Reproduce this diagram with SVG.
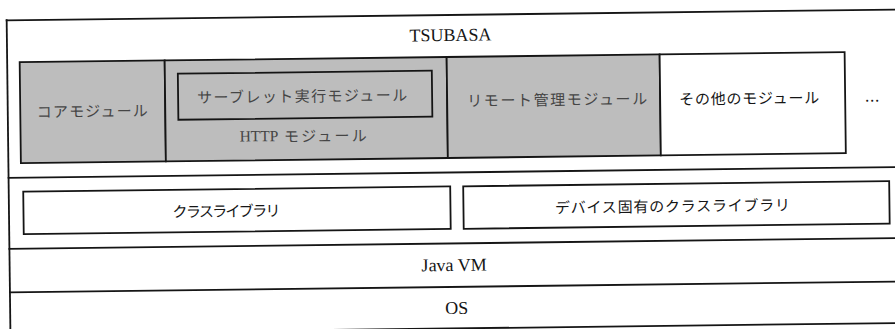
<svg xmlns="http://www.w3.org/2000/svg" width="895" height="329" viewBox="0 0 895 329">
<style>
.ln{stroke:#151515;stroke-width:1.8;fill:none}
.box{stroke:#151515;stroke-width:1.8;fill:#fff}
.gray{stroke:#151515;stroke-width:1.8;fill:#bdbdbd}
.lat{font-family:"Liberation Serif","DejaVu Serif",serif;font-size:18px;fill:#151515;text-anchor:middle}
.jp{font-family:"Noto Sans CJK JP","Noto Sans",sans-serif;font-size:15px;fill:#151515;text-anchor:middle;dominant-baseline:central}
.dim{fill:#454545}
</style>
<rect width="895" height="329" fill="#fff"/>
<g transform="rotate(-0.69 447 170)">
  <g id="frame">
    <path class="ln" d="M8.5 14 V345"/>
  </g>
  <g id="tsubasa">
    <path class="ln" d="M7.6 15 H905"/>
    <text class="lat" x="452" y="41">TSUBASA</text>
  </g>
  <g id="core-module">
    <rect class="gray" x="21" y="57" width="145" height="101"/>
    <text class="jp dim" x="93" y="106" textLength="111" lengthAdjust="spacing">コアモジュール</text>
  </g>
  <g id="http-module">
    <rect class="gray" x="166" y="57" width="282" height="101"/>
    <text class="jp dim" x="240" y="133" style="text-anchor:start"><tspan style="font-family:'Liberation Serif','DejaVu Serif',serif;font-size:15.5px">HTTP</tspan><tspan letter-spacing="2.2"> モジュール</tspan></text>
  </g>
  <g id="servlet-module">
    <rect class="gray" x="179" y="70.5" width="254" height="46"/>
    <text class="jp dim" x="303" y="93.5" textLength="210" lengthAdjust="spacing">サーブレット実行モジュール</text>
  </g>
  <g id="remote-module">
    <rect class="gray" x="448" y="57" width="213" height="101"/>
    <text class="jp dim" x="558" y="100" textLength="180" lengthAdjust="spacing">リモート管理モジュール</text>
  </g>
  <g id="other-module">
    <rect class="box" x="661" y="57" width="185" height="101"/>
    <text class="jp" x="750" y="101" textLength="140" lengthAdjust="spacing">その他のモジュール</text>
  </g>
  <g id="more-modules">
    <text class="jp" x="873" y="105">…</text>
  </g>
  <g id="library-layer">
    <path class="ln" d="M7.6 172.5 H905"/>
  </g>
  <g id="class-library">
    <rect class="box" x="23" y="186.5" width="427" height="42.5"/>
    <text class="jp" x="226" y="207.5" textLength="108" lengthAdjust="spacing">クラスライブラリ</text>
  </g>
  <g id="device-class-library">
    <rect class="box" x="463" y="186.5" width="426" height="42.5"/>
    <text class="jp" x="672" y="208" textLength="235" lengthAdjust="spacing">デバイス固有のクラスライブラリ</text>
  </g>
  <g id="java-vm">
    <path class="ln" d="M7.6 243.5 H905"/>
    <text class="lat" x="453" y="271">Java VM</text>
  </g>
  <g id="os">
    <path class="ln" d="M7.6 287 H905"/>
    <path class="ln" d="M7.6 328.5 H905"/>
    <text class="lat" x="455" y="314">OS</text>
  </g>
</g>
</svg>
